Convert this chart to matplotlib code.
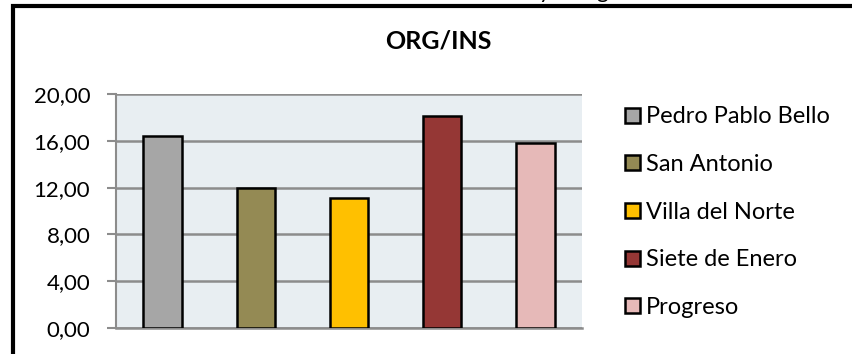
import matplotlib.pyplot as plt
from matplotlib.patches import Rectangle

plt.rcParams['font.family'] = ['Lato', 'DejaVu Sans']

barrios = ['Pedro Pablo Bello', 'San Antonio', 'Villa del Norte', 'Siete de Enero', 'Progreso']
valores = [16.4, 12.0, 11.15, 18.1, 15.85]
colores = ['#A6A6A6', '#948A54', '#FFC000', '#953735', '#E6B9B8']
yticks = [0, 4, 8, 12, 16, 20]

fig = plt.figure(figsize=(8.53, 3.54), dpi=100)
ax = fig.add_axes([116/853, 1-328/354, 466/853, 234/354])
ax.set_facecolor('#E8EEF2')

bars = []
for i, (b, v, c) in enumerate(zip(barrios, valores, colores)):
    bars.append(ax.bar(i, v, width=0.41, color=c, edgecolor='black', linewidth=1.8, label=b, zorder=3))

ax.set_xlim(-0.5, 4.5)
ax.set_ylim(0, 20)
ax.set_yticks(yticks)
ax.set_yticklabels([('%.2f' % t).replace('.', ',') for t in yticks], fontsize=16)
ax.set_xticks([])
ax.grid(axis='y', color='#8C8C8C', linewidth=1.8, zorder=1)
for s in ['top', 'right']:
    ax.spines[s].set_visible(False)
ax.spines['left'].set_color('#8C8C8C')
ax.spines['bottom'].set_color('#8C8C8C')
ax.spines['left'].set_linewidth(1.5)
ax.spines['bottom'].set_linewidth(1.8)
ax.tick_params(axis='y', length=6.5, width=1.5, color='#8C8C8C', pad=12)

fig.text(438/853, 1-41/354, 'ORG/INS', fontsize=18, fontweight='bold', ha='center', va='center')

# trozos del texto de arriba, cortado por el borde de la imagen
fig.text(545/853, 1+2/354, 'y', fontsize=16, ha='center', va='baseline')
fig.text(602/853, 1+2/354, 'g', fontsize=16, ha='center', va='baseline')

fig.legend(handles=[b[0] for b in bars], labels=barrios, loc='upper left',
           bbox_to_anchor=(616/853, 1-97/354), frameon=False, fontsize=17,
           handlelength=0.6, handleheight=0.6, handletextpad=0.25, labelspacing=1.13,
           borderaxespad=0)

# marco negro del grafico
fig.patches.append(Rectangle((13/853, -0.1), 2, 1-5.5/354+0.1, transform=fig.transFigure,
                             fill=False, edgecolor='black', linewidth=3, figure=fig))

fig.savefig('out.png', dpi=100)
